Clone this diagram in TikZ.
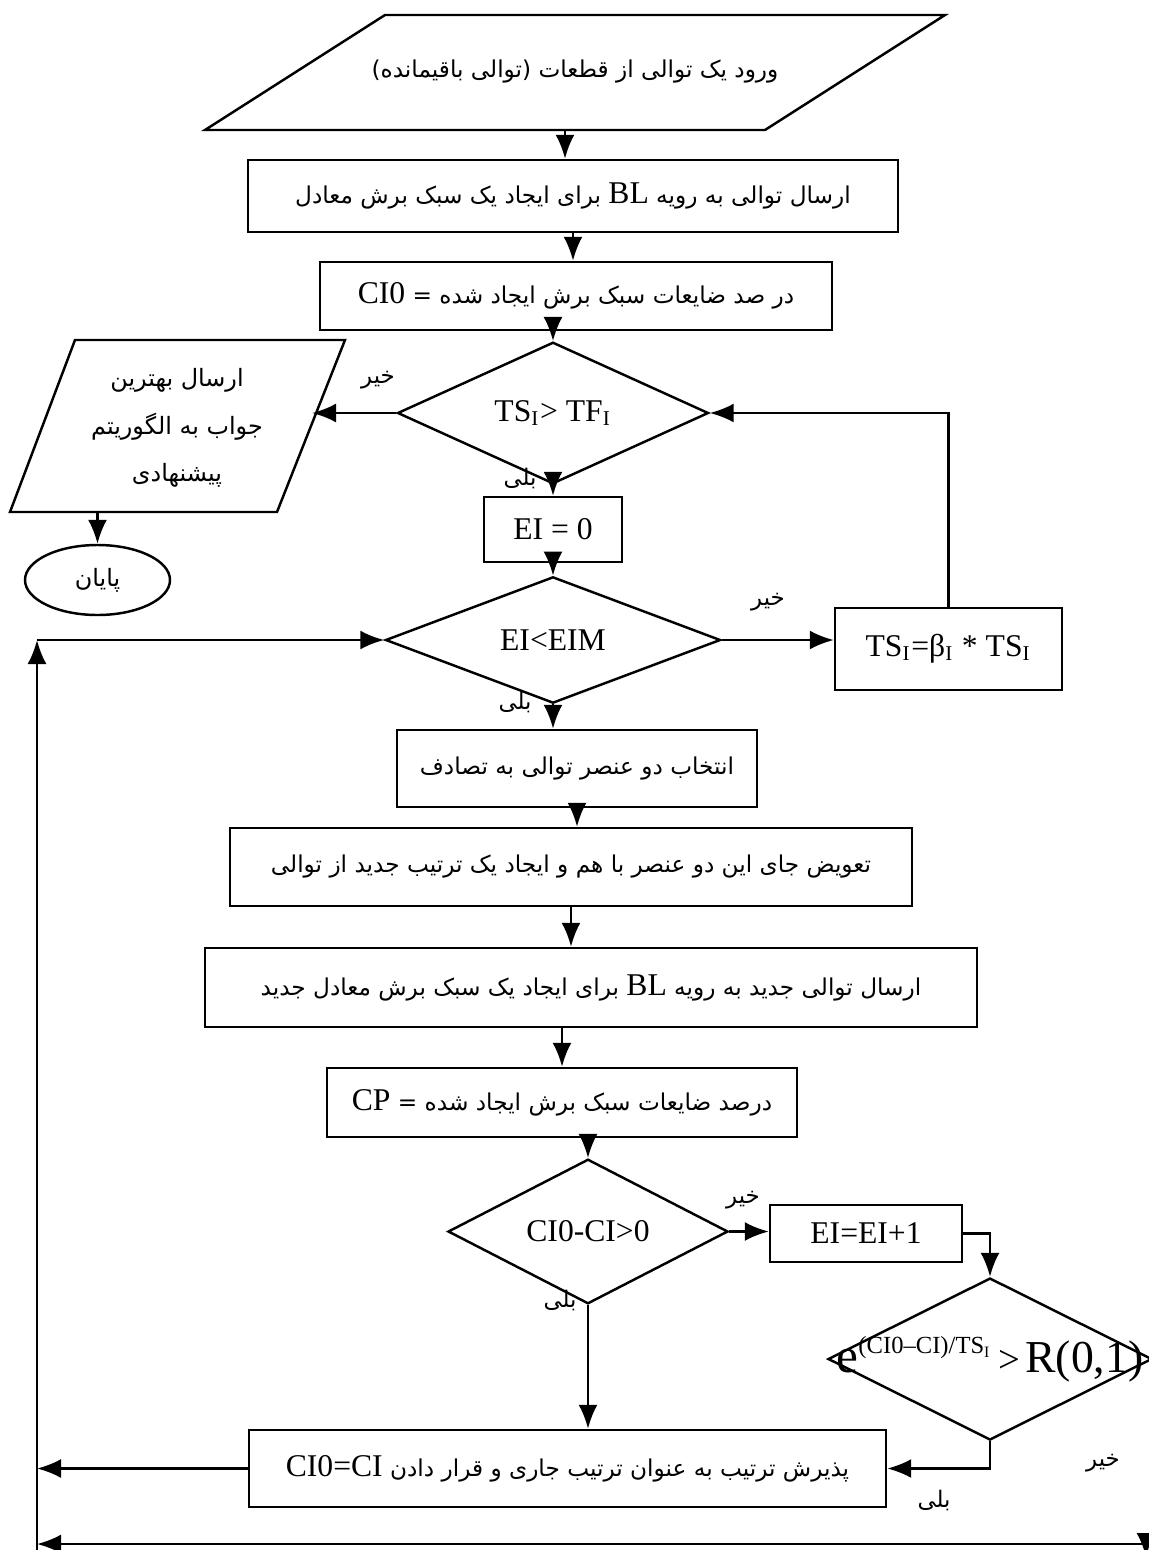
\documentclass[tikz,border=0pt]{standalone}
\usepackage{fontspec}
\setmainfont{Liberation Serif}
\newfontfamily\fa[Script=Arabic]{DejaVu Sans}
\TeXXeTstate=1
\usepackage{tikz}
\usetikzlibrary{arrows,arrows.meta,shapes,shapes.geometric,positioning}

\newcommand{\fatxt}[1]{{\fa\beginR #1\endR}}
\newcommand{\latn}[1]{\beginL{\rmfamily\fontsize{9}{11}\selectfont #1}\endL}

\tikzset{
  boite/.style={draw, rectangle, line width=0.7pt, inner sep=1pt, font=\fontsize{6.6}{11}\selectfont},
  losange/.style={draw, diamond, line width=0.7pt, inner sep=0pt, font=\fontsize{9}{11}\selectfont},
  latin/.style={font=\fontsize{9}{11}\selectfont},
  fleche/.style={black, line width=0.7pt, ->, >={Latex[length=2.4mm,width=1.9mm]}},
  ligne/.style={black, line width=0.7pt},
  etiq/.style={inner sep=0pt, font=\fontsize{6.5}{8}\selectfont}
}

\begin{document}
\begin{tikzpicture}
\useasboundingbox (0,0) rectangle (11.49,-15.50);

% entree
\draw[ligne] (3.85,-0.15) -- (9.45,-0.15) -- (7.65,-1.30) -- (2.05,-1.30) -- cycle;
\node[font=\fontsize{6.6}{11}\selectfont] (inp) at(5.75,-0.72) {\fatxt{ورود یک توالی از قطعات (توالی باقیمانده)}};
\coordinate (inpB) at(5.65,-1.30);

% boites du haut
\node[boite, minimum width=6.50cm, minimum height=0.72cm] (b1) at(5.73,-1.96) {\fatxt{ارسال توالی به رویه \latn{BL} برای ایجاد یک سبک برش معادل}};
\node[boite, minimum width=5.12cm, minimum height=0.68cm] (b2) at(5.76,-2.96) {\fatxt{در صد ضایعات سبک برش ایجاد شده = \latn{CI0}}};

% test temperature
\node[losange, minimum width=3.11cm, minimum height=0.94cm] (d1) at(5.53,-4.13) {TS\textsubscript{I}> TF\textsubscript{I}};

% sortie et fin
\draw[ligne] (0.75,-3.40) -- (3.45,-3.40) -- (2.77,-5.12) -- (0.10,-5.12) -- cycle;
\node[align=center, font=\fontsize{6.8}{13.5}\selectfont] (out) at(1.77,-4.28) {\fatxt{ارسال بهترین}\\\fatxt{جواب به الگوریتم}\\\fatxt{پیشنهادی}};
\coordinate (outE) at(3.12,-4.13);
\coordinate (outB) at(0.975,-5.12);
\node[draw, ellipse, line width=0.7pt, minimum width=1.45cm, minimum height=0.70cm, font=\fontsize{6.8}{11}\selectfont] (fin) at(0.975,-5.80) {\fatxt{پایان}};

% boucle interne
\node[boite, latin, minimum width=1.38cm, minimum height=0.65cm] (ebox) at(5.53,-5.295) {EI = 0};
\node[losange, minimum width=3.35cm, minimum height=0.93cm] (d2) at(5.53,-6.40) {EI<EIM};
\node[boite, latin, minimum width=2.27cm, minimum height=0.82cm] (ts) at(9.485,-6.49) {TS\textsubscript{I}=β\textsubscript{I} * TS\textsubscript{I}};

% voisinage
\node[boite, minimum width=3.60cm, minimum height=0.77cm] (box4) at(5.77,-7.685) {\fatxt{انتخاب دو عنصر توالی به تصادف}};
\node[boite, minimum width=6.82cm, minimum height=0.78cm] (box5) at(5.71,-8.67) {\fatxt{تعویض جای این دو عنصر با هم و ایجاد یک ترتیب جدید از توالی}};
\node[boite, minimum width=7.72cm, minimum height=0.79cm] (box6) at(5.91,-9.875) {\fatxt{ارسال توالی جدید به رویه \latn{BL} برای ایجاد یک سبک برش معادل جدید}};
\node[boite, minimum width=4.70cm, minimum height=0.69cm] (box7) at(5.62,-11.025) {\fatxt{درصد ضایعات سبک برش ایجاد شده = \latn{CP}}};

% acceptation
\node[losange, minimum width=2.80cm, minimum height=1.07cm] (d3) at(5.88,-12.315) {CI0-CI>0};
\node[boite, latin, minimum width=1.92cm, minimum height=0.57cm] (eebox) at(8.66,-12.335) {EI=EI+1};
\node[losange, minimum width=3.24cm, minimum height=1.62cm] (d4) at(9.90,-13.59) {\makebox[0pt]{\fontsize{14}{16}\selectfont e\raisebox{0.85ex}{\fontsize{7}{7}\selectfont(CI0–CI)/TS\raisebox{-0.4ex}{\fontsize{4.5}{5}\selectfont I}}\hspace{2.5pt}{\fontsize{11}{11}\selectfont>}\hspace{1.5pt}{\fontsize{13}{14}\selectfont R(0,1)}}};
\node[boite, minimum width=6.37cm, minimum height=0.77cm] (box8) at(5.675,-14.685) {\fatxt{پذیرش ترتیب به عنوان ترتیب جاری و قرار دادن \latn{CI0=CI}}};

% cadre de retour
\coordinate (lt) at(0.37,-6.40);
\coordinate (lb) at(0.37,-15.50);
\coordinate (lbot) at(0.37,-15.44);
\coordinate (rc) at(11.49,-15.44);
\coordinate (rb) at(11.46,-15.33);
\coordinate (rbt) at(11.46,-15.57);

% etiquettes oui / non
\node[etiq] (n1) at(3.78,-3.80) {\fatxt{خیر}};
\node[etiq] (y1) at(5.20,-4.78) {\fatxt{بلی}};
\node[etiq] (n2) at(7.68,-6.02) {\fatxt{خیر}};
\node[etiq] (y2) at(5.15,-7.02) {\fatxt{بلی}};
\node[etiq] (n3) at(7.43,-12.00) {\fatxt{خیر}};
\node[etiq] (y3) at(5.60,-13.00) {\fatxt{بلی}};
\node[etiq] (n4) at(11.03,-14.63) {\fatxt{خیر}};
\node[etiq] (y4) at(9.34,-15.00) {\fatxt{بلی}};

% liens
\draw[fleche](inpB)--(inpB |- b1.north);
\draw[fleche](b1.south)--(b1.south |- b2.north);
\draw[fleche](b2.south -| d1.north)--(d1.north);
\draw[fleche](d1.west)--(outE);
\draw[fleche](outB)--(fin.north);
\draw[fleche](d1)--(ebox);
\draw[fleche](ebox)--(d2);
\draw[fleche](d2.east)--(d2.east -| ts.west);
\draw[fleche](ts.north)|-(d1.east);
\draw[fleche](lb)--(lt);
\draw[fleche](lt)--(d2.west);
\draw[fleche](d2.south)--(d2.south |- box4.north);
\draw[fleche](box4.south)--(box4.south |- box5.north);
\draw[fleche](box5.south)--(box5.south |- box6.north);
\draw[fleche](box7.north |- box6.south)--(box7.north);
\draw[fleche](d3.north |- box7.south)--(d3.north);
\draw[fleche](d3.east)--(d3.east -| eebox.west);
\draw[fleche](eebox.east)-|(d4.north);
\draw[fleche](d4.south)|-(box8.east);
\draw[fleche](d3.south)--(d3.south |- box8.north);
\draw[fleche](box8.west)--(box8.west -| lb);
\draw[fleche](rc)--(lbot);
\draw[fleche](rb)--(rbt);

\end{tikzpicture}
\end{document}
